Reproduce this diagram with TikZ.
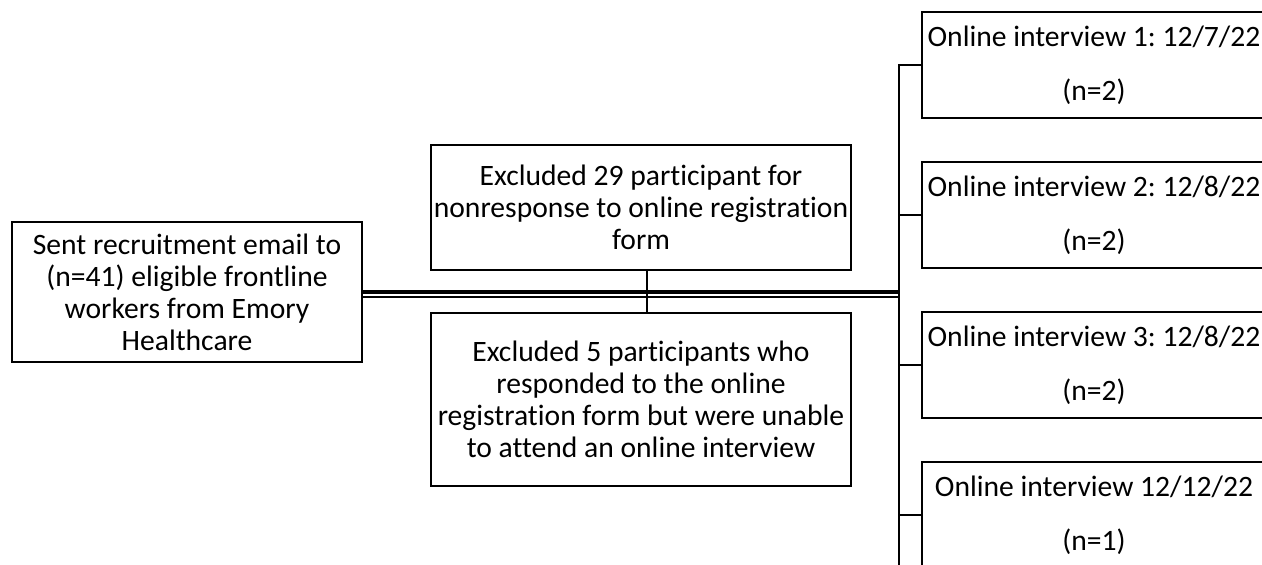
\documentclass[tikz,border=0pt]{standalone}
\usepackage{fontspec}
\setmainfont{Carlito}[Ligatures=NoCommon]
\frenchspacing
\begin{document}
\begin{tikzpicture}[x=0.5pt,y=-0.5pt,
    box/.style={draw,line width=1pt,align=center,inner sep=0pt,font=\fontsize{14.8}{16}\selectfont},
    visit/.style={box,minimum width=172pt,minimum height=53pt},
    link/.style={line width=1pt}]
    \useasboundingbox (0,0) rectangle (1262,565);
    \node (src) at (187,292) [box,minimum width=175pt,minimum height=70pt] {Sent recruitment email to\\(n=41) eligible frontline\\workers from Emory\\Healthcare};
    \node (excl1) at (641,207.5) [box,minimum width=210pt,minimum height=62.5pt] {Excluded 29 participant for\\nonresponse to online registration\\form};
    \node (excl2) at (641,399.5) [box,minimum width=210pt,minimum height=86.5pt] {Excluded 5 participants who\\responded to the online\\registration form but were unable\\to attend an online interview};
    \node (int1) at (1094,65) [visit] {Online interview 1: 12/7/22\\[11pt](n=2)};
    \node (int2) at (1094,215) [visit] {Online interview 2: 12/8/22\\[11pt](n=2)};
    \node (int3) at (1094,365.5) [visit] {Online interview 3: 12/8/22\\[11pt](n=2)};
    \node (int4) at (1094,515) [visit] {Online interview 12/12/22\\[11pt](n=1)};
    \coordinate (hub) at (899,292);
    \coordinate (top) at (int1.west -| hub);
    \coordinate (bot) at (899,565);
    \draw[line width=2pt] (src.east) -- (hub);
    \draw[line width=0.8pt] ([yshift=-2.5pt]src.east) -- ([yshift=-2.5pt]hub);
    \draw[link] ([xshift=3pt]excl1.south) -- ([xshift=3pt]excl2.north);
    \draw[link,line cap=rect] (top) -- (bot);
    \draw[link] (top) -- (int1.west);
    \draw[link] (int2.west -| top) -- (int2.west);
    \draw[link] (int3.west -| top) -- (int3.west);
    \draw[link] (int4.west -| top) -- (int4.west);
\end{tikzpicture}
\end{document}
